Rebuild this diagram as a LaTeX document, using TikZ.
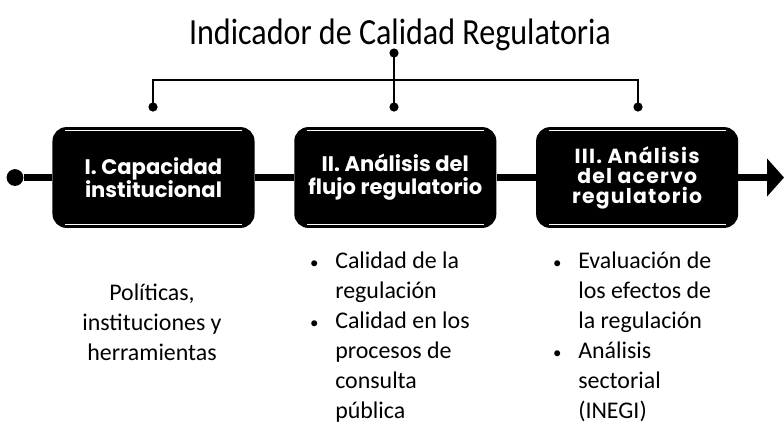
\documentclass[tikz,border=0pt]{standalone}
\usepackage{fontspec}
\setmainfont{Carlito}
\newfontfamily\boxfont{Poppins}
\usepackage{tikz}
\usetikzlibrary{arrows.meta,positioning}

\newcommand{\itembullet}{\llap{{\fontsize{12}{12}\selectfont\textbullet}\hspace{0.42cm}}}

\begin{document}
\begin{tikzpicture}[
  x=0.025cm, y=-0.025cm,
  box/.style={fill=black, rounded corners=0.35cm, minimum width=5.05cm, minimum height=2.52cm, align=center, text=white, font=\boxfont\bfseries\fontsize{15}{16.5}\selectfont},
  mainline/.style={line width=5.6pt, color=black},
  treeline/.style={line width=1.4pt, color=black},
  bigdot/.style={circle, fill=black, inner sep=0pt, minimum size=0.42cm},
  smalldot/.style={circle, fill=black, inner sep=0pt, minimum size=0.23cm},
  bodytext/.style={font=\fontsize{17}{21.3}\selectfont, inner sep=0pt},
  node distance=0.6cm and 0.98cm
]
  \useasboundingbox (0,0) rectangle (784,423);

  \node[anchor=base] (title) at (400,44) {\scalebox{1}[1.15]{\fontsize{22.8}{26}\selectfont Indicador de Calidad Regulatoria}};

  \node[box] (cap) at (153.5,177.5) {I. Capacidad\\institucional};
  \node[box, right=of cap] (flujo) {II. Análisis del\\flujo regulatorio};
  \node[box, right=of flujo, font=\boxfont\bfseries\fontsize{14.5}{14.3}\selectfont\addfontfeature{LetterSpace=6}] (acervo) {III. Análisis\\del acervo\\regulatorio};

  \foreach \b in {cap,flujo,acervo} {
    \draw[white, line width=0.8pt] ([xshift=0.32cm,yshift=-0.1cm]\b.north west) -- ([xshift=-0.32cm,yshift=-0.1cm]\b.north east);
    \draw[white, line width=0.6pt] ([xshift=0.32cm,yshift=0.1cm]\b.south west) -- ([xshift=-0.32cm,yshift=0.1cm]\b.south east);
  }

  \node[bigdot] (start) at (15,177.5) {};
  \coordinate (tip) at (784,177.5);
  \draw[mainline] (start) -- (cap);
  \draw[mainline] (cap) -- (flujo);
  \draw[mainline] (flujo) -- (acervo);
  \draw[mainline, -{Triangle[length=0.42cm, width=0.92cm]}] (acervo) -- (tip);

  \node[smalldot] (dtop) at (394,53) {};
  \node[smalldot] (dl) at (153,107) {};
  \node[smalldot] (dm) at (394,107) {};
  \node[smalldot] (dr) at (638,107) {};
  \coordinate (junction) at (394,80);
  \draw[treeline] (dtop.center) -- (dm.center);
  \draw[treeline] (dl.center) |- (junction) -| (dr.center);

  \node[bodytext, align=center] (tools) at (152,322) {Políticas,\\instituciones y\\herramientas};
  \node[bodytext, align=left, anchor=north west] (flujolist) at (335,252) {\itembullet Calidad de la\\regulación\\\itembullet Calidad en los\\procesos de\\consulta\\pública};
  \node[bodytext, align=left, anchor=north west] (acervolist) at (578,252) {\itembullet Evaluación de\\los efectos de\\la regulación\\\itembullet Análisis\\sectorial\\(INEGI)};
\end{tikzpicture}
\end{document}
